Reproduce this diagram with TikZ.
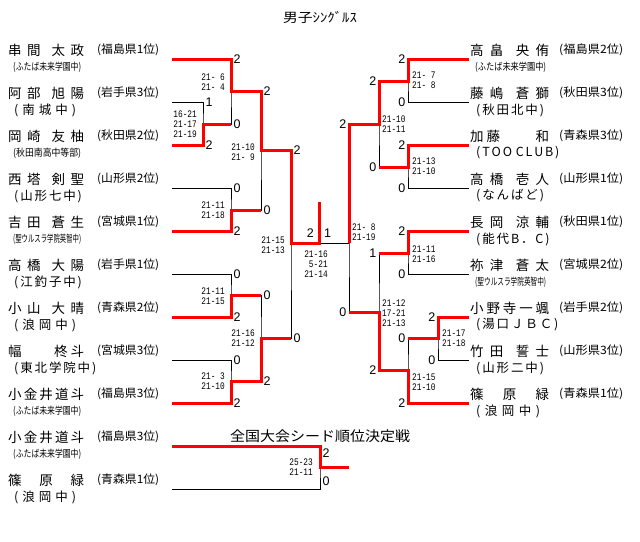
\documentclass[tikz,border=0pt]{standalone}
\usepackage{fontspec}
\usepackage{graphicx}
\setmainfont{Noto Sans CJK JP}
\newfontfamily\numfont{Liberation Sans}
\newfontfamily\scofont[FakeStretch=0.78]{Liberation Mono}
\usetikzlibrary{calc}
\newcommand\nbox[2][76pt]{\makebox[#1][s]{#2}}
\newcommand\sbig[2][62pt]{\makebox[#1][s]{#2}}
\newcommand\ssml[2][68pt]{\resizebox{#1}{\height}{(#2)}}
\newcommand\pbox[2][62pt]{\resizebox{#1}{\height}{(#2)}}

\begin{document}
\begin{tikzpicture}[x=1pt, y=-1pt,
  win/.style={draw=red, line width=3pt},
  lose/.style={draw=black, line width=0.8pt},
  nm/.style={anchor=west, inner sep=0pt, font=\fontsize{13.5}{14}\selectfont},
  pf/.style={anchor=west, inner sep=0pt, font=\fontsize{11.5}{12}\selectfont},
  sb/.style={anchor=west, inner sep=0pt, font=\fontsize{12.5}{13}\selectfont},
  ss/.style={anchor=west, inner sep=0pt, font=\fontsize{10}{11}\selectfont},
  pts/.style={inner sep=1pt, font=\numfont\fontsize{12.5}{13}\selectfont},
  ptl/.style={pts, anchor=west, xshift=1.5pt},
  ptr/.style={pts, anchor=east, xshift=-1.5pt},
  sco/.style={inner sep=0pt, font=\scofont\fontsize{10}{10}\selectfont}]
\useasboundingbox (0,0) rectangle (640,541);

\node[font=\fontsize{13}{14}\selectfont] (title) at (320,17) {\resizebox{74pt}{\height}{男子ｼﾝｸﾞﾙｽ}};

% left players
\node[nm] (nl1) at (8,50) {\nbox{串 間 \ 太 政}};
\node[pf] (pl1) at (97,50) {\pbox{福島県1位}};
\node[ss] (sl1) at (13,67) {\ssml{ふたば未来学園中}};
\node[nm] (nl2) at (8,93) {\nbox{阿 部 \ 旭 陽}};
\node[pf] (pl2) at (97,93) {\pbox{岩手県3位}};
\node[sb] (sl2) at (14,110) {\sbig{( 南 城 中 )}};
\node[nm] (nl3) at (8,136) {\nbox{岡 崎 \ 友 柚}};
\node[pf] (pl3) at (97,136) {\pbox{秋田県2位}};
\node[ss] (sl3) at (13,153) {\ssml{秋田南高中等部}};
\node[nm] (nl4) at (8,179) {\nbox{西 塔 \ 剣 聖}};
\node[pf] (pl4) at (97,179) {\pbox{山形県2位}};
\node[sb] (sl4) at (14,196) {\sbig{( 山 形 七 中 )}};
\node[nm] (nl5) at (8,222) {\nbox{吉 田 \ 蒼 生}};
\node[pf] (pl5) at (97,222) {\pbox{宮城県1位}};
\node[ss] (sl5) at (13,239) {\ssml{聖ウルスラ学院英智中}};
\node[nm] (nl6) at (8,265) {\nbox{高 橋 \ 大 陽}};
\node[pf] (pl6) at (97,265) {\pbox{岩手県1位}};
\node[sb] (sl6) at (14,282) {\sbig{( 江 釣 子 中 )}};
\node[nm] (nl7) at (8,308) {\nbox{小 山 \ 大 晴}};
\node[pf] (pl7) at (97,308) {\pbox{青森県2位}};
\node[sb] (sl7) at (14,325) {\sbig{( 浪 岡 中 )}};
\node[nm] (nl8) at (8,351) {\nbox{幅\hfill 柊 斗}};
\node[pf] (pl8) at (97,351) {\pbox{宮城県3位}};
\node[sb] (sl8) at (14,368) {\sbig{( 東 北 学 院 中 )}};
\node[nm] (nl9) at (8,394) {\nbox{小 金 井 道 斗}};
\node[pf] (pl9) at (97,394) {\pbox{福島県3位}};
\node[ss] (sl9) at (13,411) {\ssml{ふたば未来学園中}};
\node[nm] (nl10) at (8,437) {\nbox{小 金 井 道 斗}};
\node[pf] (pl10) at (97,437) {\pbox{福島県3位}};
\node[ss] (sl10) at (13,454) {\ssml{ふたば未来学園中}};
\node[nm] (nl11) at (8,480) {\nbox{篠 原 緑}};
\node[pf] (pl11) at (97,480) {\pbox{青森県1位}};
\node[sb] (sl11) at (14,497) {\sbig{( 浪 岡 中 )}};

% right players
\node[nm] (nr1) at (470,50) {\nbox[79pt]{高 畠 \ 央 侑}};
\node[pf] (pr1) at (559,50) {\pbox[64pt]{福島県2位}};
\node[ss] (sr1) at (475,67) {\ssml[71pt]{ふたば未来学園中}};
\node[nm] (nr2) at (470,93) {\nbox[79pt]{藤 嶋 \ 蒼 獅}};
\node[pf] (pr2) at (559,93) {\pbox[64pt]{秋田県3位}};
\node[sb] (sr2) at (476,110) {\sbig[64pt]{( 秋 田 北 中 )}};
\node[nm] (nr3) at (470,136) {\nbox[79pt]{加 藤\hfill 和}};
\node[pf] (pr3) at (559,136) {\pbox[64pt]{青森県3位}};
\node[sb] (sr3) at (476,153) {\sbig[64pt]{( T O O \ C L U B )}};
\node[nm] (nr4) at (470,179) {\nbox[79pt]{高 橋 \ 壱 人}};
\node[pf] (pr4) at (559,179) {\pbox[64pt]{山形県1位}};
\node[sb] (sr4) at (476,196) {\sbig[64pt]{( な ん ば ど )}};
\node[nm] (nr5) at (470,222) {\nbox[79pt]{長 岡 \ 涼 輔}};
\node[pf] (pr5) at (559,222) {\pbox[64pt]{秋田県1位}};
\node[sb] (sr5) at (476,239) {\sbig[64pt]{( 能 代 B ． C )}};
\node[nm] (nr6) at (470,265) {\nbox[79pt]{祢 津 \ 蒼 太}};
\node[pf] (pr6) at (559,265) {\pbox[64pt]{宮城県2位}};
\node[ss] (sr6) at (475,282) {\ssml[71pt]{聖ウルスラ学院英智中}};
\node[nm] (nr7) at (470,308) {\nbox[79pt]{小 野 寺 一 颯}};
\node[pf] (pr7) at (559,308) {\pbox[64pt]{岩手県2位}};
\node[sb] (sr7) at (476,325) {\sbig[64pt]{( 湯 口 Ｊ Ｂ Ｃ )}};
\node[nm] (nr8) at (470,351) {\nbox[79pt]{竹 田 \ 誓 士}};
\node[pf] (pr8) at (559,351) {\pbox[64pt]{山形県3位}};
\node[sb] (sr8) at (476,368) {\sbig[64pt]{( 山 形 二 中 )}};
\node[nm] (nr9) at (470,394) {\nbox[79pt]{篠 原 緑}};
\node[pf] (pr9) at (559,394) {\pbox[64pt]{青森県1位}};
\node[sb] (sr9) at (476,411) {\sbig[64pt]{( 浪 岡 中 )}};

% line ends and match points
\coordinate (l1) at (172,59);  \coordinate (l2) at (172,102);
\coordinate (l3) at (172,145); \coordinate (l4) at (172,188);
\coordinate (l5) at (172,231); \coordinate (l6) at (172,274);
\coordinate (l7) at (172,317); \coordinate (l8) at (172,360);
\coordinate (l9) at (172,403); \coordinate (l10) at (172,446);
\coordinate (l11) at (172,489);
\coordinate (r1) at (469,59);  \coordinate (r2) at (469,102);
\coordinate (r3) at (469,145); \coordinate (r4) at (469,188);
\coordinate (r5) at (469,231); \coordinate (r6) at (469,274);
\coordinate (r7) at (469,317); \coordinate (r8) at (469,360);
\coordinate (r9) at (469,403);
\coordinate (m1) at (203,124); \coordinate (m2) at (231,91);
\coordinate (m3) at (231,210); \coordinate (m4) at (261,150);
\coordinate (m5) at (231,295); \coordinate (m6) at (231,381);
\coordinate (m7) at (261,338); \coordinate (m8) at (291,243);
\coordinate (n1) at (408,81);  \coordinate (n2) at (408,167);
\coordinate (n3) at (379,124); \coordinate (n4) at (408,253);
\coordinate (n5) at (438,338); \coordinate (n6) at (408,370);
\coordinate (n7) at (379,312); \coordinate (n8) at (349,243);
\coordinate (fin) at (319,243); \coordinate (top) at (319,202);
\coordinate (t1) at (320,467); \coordinate (t2) at (349,467);

% black tree
\draw[lose] (l2) -| (m1) |- (l3);
\draw[lose] (l1) -| (m2) |- (m1);
\draw[lose] (l4) -| (m3) |- (l5);
\draw[lose] (m2) -| (m4) |- (m3);
\draw[lose] (l6) -| (m5) |- (l7);
\draw[lose] (l8) -| (m6) |- (l9);
\draw[lose] (m5) -| (m7) |- (m6);
\draw[lose] (m4) -| (m8) |- (m7);
\draw[lose] (m8) -- (n8);
\draw[lose] (r1) -| (n1) |- (r2);
\draw[lose] (r3) -| (n2) |- (r4);
\draw[lose] (n1) -| (n3) |- (n2);
\draw[lose] (r5) -| (n4) |- (r6);
\draw[lose] (r7) -| (n5) |- (r8);
\draw[lose] (n5) -| (n6) |- (r9);
\draw[lose] (n4) -| (n7) |- (n6);
\draw[lose] (n3) -| (n8) |- (n7);
\draw[lose] (l10) -| (t1) |- (l11);

% winners
\draw[win] (l1) -| (m2) -| (m4) -| (m8) -- (fin) -- (top);
\draw[win] (l3) -| (m1) -- (m1 -| m2);
\draw[win] (l5) -| (m3) -- (m3 -| m4);
\draw[win] (l7) -| (m5) -- (m5 -| m7);
\draw[win] (l9) -| (m6) -| (m7) -- (m7 -| m8);
\draw[win] (r1) -| (n1) -| (n3) -| (n8);
\draw[win] (r3) -| (n2) -- (n2 -| n3);
\draw[win] (r5) -| (n4) -- (n4 -| n7);
\draw[win] (r7) -| (n5) -- (n5 -| n6);
\draw[win] (r9) -| (n6) -| (n7) -- (n7 -| n8);
\draw[win] (l10) -| (t1) -- (t2);

% games won, left
\node[ptl] (a1) at (l1 -| m2) {2};
\node[ptl] (a2) at (l2 -| m1) {1};
\node[ptl] (a3) at (l3 -| m1) {2};
\node[ptl] (a4) at (m1 -| m2) {0};
\node[ptl] (a5) at (m2 -| m4) {2};
\node[ptl] (a6) at (l4 -| m3) {0};
\node[ptl] (a7) at (l5 -| m3) {2};
\node[ptl] (a8) at (m3 -| m4) {0};
\node[ptl] (a9) at (m4 -| m8) {2};
\node[ptl] (a10) at (l6 -| m5) {0};
\node[ptl] (a11) at (l7 -| m5) {2};
\node[ptl] (a12) at (m5 -| m7) {0};
\node[ptl] (a13) at (l8 -| m6) {0};
\node[ptl] (a14) at (l9 -| m6) {2};
\node[ptl] (a15) at (m6 -| m7) {2};
\node[ptl] (a16) at (m7 -| m8) {0};
\node[pts, anchor=east] (f1) at ($(fin)+(-4,-10)$) {2};
\node[pts, anchor=west] (f2) at ($(fin)+(4,-10)$) {1};
% games won, right
\node[ptr] (b1) at (r1 -| n1) {2};
\node[ptr] (b2) at (r2 -| n1) {0};
\node[ptr] (b3) at (n1 -| n3) {2};
\node[ptr] (b4) at (r3 -| n2) {2};
\node[ptr] (b5) at (r4 -| n2) {0};
\node[ptr] (b6) at (n2 -| n3) {0};
\node[ptr] (b7) at (n3 -| n8) {2};
\node[ptr] (b8) at (r5 -| n4) {2};
\node[ptr] (b9) at (r6 -| n4) {0};
\node[ptr] (b10) at (n4 -| n7) {1};
\node[ptr] (b11) at (r7 -| n5) {2};
\node[ptr] (b12) at (r8 -| n5) {0};
\node[ptr] (b13) at (n5 -| n6) {0};
\node[ptr] (b14) at (r9 -| n6) {2};
\node[ptr] (b15) at (n6 -| n7) {2};
\node[ptr] (b16) at (n7 -| n8) {0};

% set scores
\node[sco, anchor=east, align=right] (g1) at (197,124) {16-21\\21-17\\21-19};
\node[sco, anchor=east, align=right] (g2) at (225,82) {21-\phantom{0}6\\21-\phantom{0}4};
\node[sco, anchor=east, align=right] (g3) at (225,210) {21-11\\21-18};
\node[sco, anchor=east, align=right] (g4) at (255,152) {21-10\\21-\phantom{0}9};
\node[sco, anchor=east, align=right] (g5) at (225,296) {21-11\\21-15};
\node[sco, anchor=east, align=right] (g6) at (225,381) {21-\phantom{0}3\\21-10};
\node[sco, anchor=east, align=right] (g7) at (255,338) {21-16\\21-12};
\node[sco, anchor=east, align=right] (g8) at (285,245) {21-15\\21-13};
\node[sco, align=center] (g9) at (316,264) {21-16\\\phantom{0}5-21\\21-14};
\node[sco, anchor=west, align=left] (h1) at (412,80) {21-\phantom{0}7\\21-\phantom{0}8};
\node[sco, anchor=west, align=left] (h2) at (382,124) {21-10\\21-11};
\node[sco, anchor=west, align=left] (h3) at (412,166) {21-13\\21-10};
\node[sco, anchor=west, align=left] (h4) at (352,232) {21-\phantom{0}8\\21-19};
\node[sco, anchor=west, align=left] (h5) at (412,254) {21-11\\21-16};
\node[sco, anchor=west, align=left] (h6) at (382,313) {21-12\\17-21\\21-13};
\node[sco, anchor=west, align=left] (h7) at (442,338) {21-17\\21-18};
\node[sco, anchor=west, align=left] (h8) at (412,382) {21-15\\21-10};

% seeding match
\node[font=\fontsize{14}{15}\selectfont] (seed) at (320,436) {\resizebox{180pt}{\height}{全国大会シード順位決定戦}};
\node[sco, anchor=east, align=right] (g10) at (313,467) {25-23\\21-11};
\node[ptl] (c1) at (320,453) {2};
\node[ptl] (c2) at (320,481) {0};

\end{tikzpicture}
\end{document}
